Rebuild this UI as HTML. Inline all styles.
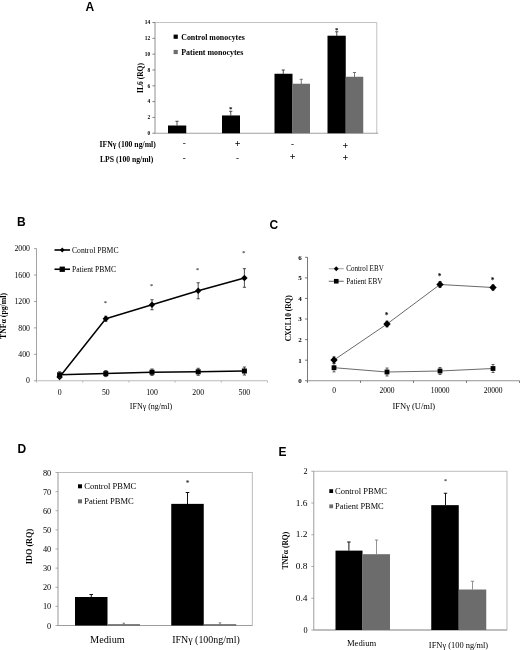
<!DOCTYPE html>
<html lang="en">
<head>
<meta charset="utf-8">
<title>Figure</title>
<style>
html,body{margin:0;padding:0;background:#fff;}
body{width:520px;height:650px;overflow:hidden;}
svg{display:block;filter:blur(0.4px);}
</style>
</head>
<body>
<svg width="520" height="650" viewBox="0 0 520 650">
<rect width="520" height="650" fill="#fff"/>
<text x="85.5" y="11" font-family='"Liberation Sans", sans-serif' font-size="12" font-weight="bold" fill="#000">A</text>
<line x1="155" y1="22.5" x2="376.75" y2="22.5" stroke="#b4b4b4" stroke-width="0.8"/>
<line x1="376.75" y1="22.5" x2="376.75" y2="133.25" stroke="#b4b4b4" stroke-width="0.8"/>
<line x1="155" y1="22.5" x2="155" y2="133.25" stroke="#777" stroke-width="0.8"/>
<line x1="155" y1="133.25" x2="378.25" y2="133.25" stroke="#888" stroke-width="0.8"/>
<line x1="152.4" y1="133.25" x2="155" y2="133.25" stroke="#555" stroke-width="0.7"/>
<text x="150.2" y="135.05" font-family='"Liberation Serif", serif' font-size="5.4" text-anchor="end" font-weight="bold" fill="#000">0</text>
<line x1="152.4" y1="117.42857142857143" x2="155" y2="117.42857142857143" stroke="#555" stroke-width="0.7"/>
<text x="150.2" y="119.22857142857143" font-family='"Liberation Serif", serif' font-size="5.4" text-anchor="end" font-weight="bold" fill="#000">2</text>
<line x1="152.4" y1="101.60714285714286" x2="155" y2="101.60714285714286" stroke="#555" stroke-width="0.7"/>
<text x="150.2" y="103.40714285714286" font-family='"Liberation Serif", serif' font-size="5.4" text-anchor="end" font-weight="bold" fill="#000">4</text>
<line x1="152.4" y1="85.78571428571428" x2="155" y2="85.78571428571428" stroke="#555" stroke-width="0.7"/>
<text x="150.2" y="87.58571428571427" font-family='"Liberation Serif", serif' font-size="5.4" text-anchor="end" font-weight="bold" fill="#000">6</text>
<line x1="152.4" y1="69.96428571428572" x2="155" y2="69.96428571428572" stroke="#555" stroke-width="0.7"/>
<text x="150.2" y="71.76428571428572" font-family='"Liberation Serif", serif' font-size="5.4" text-anchor="end" font-weight="bold" fill="#000">8</text>
<line x1="152.4" y1="54.14285714285714" x2="155" y2="54.14285714285714" stroke="#555" stroke-width="0.7"/>
<text x="150.2" y="55.942857142857136" font-family='"Liberation Serif", serif' font-size="5.4" text-anchor="end" font-weight="bold" fill="#000">10</text>
<line x1="152.4" y1="38.32142857142857" x2="155" y2="38.32142857142857" stroke="#555" stroke-width="0.7"/>
<text x="150.2" y="40.12142857142857" font-family='"Liberation Serif", serif' font-size="5.4" text-anchor="end" font-weight="bold" fill="#000">12</text>
<line x1="152.4" y1="22.5" x2="155" y2="22.5" stroke="#555" stroke-width="0.7"/>
<text x="150.2" y="24.3" font-family='"Liberation Serif", serif' font-size="5.4" text-anchor="end" font-weight="bold" fill="#000">14</text>
<text x="143.3" y="78" font-family='"Liberation Serif", serif' font-size="7.5" text-anchor="middle" font-weight="bold" transform="rotate(-90 143.3 78)" fill="#000">IL6 (RQ)</text>
<rect x="168.00" y="125.50" width="18.25" height="7.75" fill="#000"/>
<line x1="177" y1="121.25" x2="177" y2="125.5" stroke="#222" stroke-width="0.8"/>
<line x1="175.4" y1="121.25" x2="178.6" y2="121.25" stroke="#222" stroke-width="0.8"/>
<rect x="222.00" y="115.45" width="18.00" height="17.80" fill="#000"/>
<line x1="230.75" y1="111.25" x2="230.75" y2="115.5" stroke="#222" stroke-width="0.8"/>
<line x1="229.15" y1="111.25" x2="232.35" y2="111.25" stroke="#222" stroke-width="0.8"/>
<rect x="274.50" y="73.76" width="18.00" height="59.49" fill="#000"/>
<line x1="283.25" y1="70" x2="283.25" y2="74" stroke="#222" stroke-width="0.8"/>
<line x1="281.65" y1="70" x2="284.85" y2="70" stroke="#222" stroke-width="0.8"/>
<rect x="292.50" y="83.73" width="17.50" height="49.52" fill="#6c6c6c"/>
<line x1="301.25" y1="79.25" x2="301.25" y2="84" stroke="#555" stroke-width="0.8"/>
<line x1="299.65" y1="79.25" x2="302.85" y2="79.25" stroke="#555" stroke-width="0.8"/>
<rect x="327.50" y="35.71" width="18.25" height="97.54" fill="#000"/>
<line x1="336.75" y1="31.75" x2="336.75" y2="36" stroke="#222" stroke-width="0.8"/>
<line x1="335.15" y1="31.75" x2="338.35" y2="31.75" stroke="#222" stroke-width="0.8"/>
<rect x="345.75" y="76.77" width="17.50" height="56.48" fill="#6c6c6c"/>
<line x1="354.5" y1="72.5" x2="354.5" y2="77" stroke="#555" stroke-width="0.8"/>
<line x1="352.9" y1="72.5" x2="356.1" y2="72.5" stroke="#555" stroke-width="0.8"/>
<text x="230.75" y="111.2" font-family='"Liberation Serif", serif' font-size="7" text-anchor="middle" font-weight="bold" fill="#000">*</text>
<text x="336.75" y="31.7" font-family='"Liberation Serif", serif' font-size="7" text-anchor="middle" font-weight="bold" fill="#000">*</text>
<rect x="173.60" y="34.60" width="4.20" height="4.20" fill="#000"/>
<text x="181.25" y="39.8" font-family='"Liberation Serif", serif' font-size="8" font-weight="bold" textLength="63.5" lengthAdjust="spacingAndGlyphs" fill="#000">Control monocytes</text>
<rect x="173.60" y="49.90" width="4.20" height="4.20" fill="#6c6c6c"/>
<text x="181.25" y="54.7" font-family='"Liberation Serif", serif' font-size="8" font-weight="bold" textLength="62" lengthAdjust="spacingAndGlyphs" fill="#000">Patient monocytes</text>
<text x="99.5" y="146.8" font-family='"Liberation Serif", serif' font-size="7.5" font-weight="bold" textLength="56.3" lengthAdjust="spacingAndGlyphs" fill="#000">IFN&#947; (100 ng/ml)</text>
<text x="100" y="161.5" font-family='"Liberation Serif", serif' font-size="7.5" font-weight="bold" textLength="53.3" lengthAdjust="spacingAndGlyphs" fill="#000">LPS (100 ng/ml)</text>
<text x="184.3" y="146.4" font-family='"Liberation Serif", serif' font-size="9" text-anchor="middle" font-weight="bold" fill="#000">-</text>
<text x="237.6" y="147.0" font-family='"Liberation Serif", serif' font-size="10" text-anchor="middle" font-weight="bold" fill="#000">+</text>
<text x="292.6" y="146.8" font-family='"Liberation Serif", serif' font-size="9" text-anchor="middle" font-weight="bold" fill="#000">-</text>
<text x="345.4" y="148.6" font-family='"Liberation Serif", serif' font-size="10" text-anchor="middle" font-weight="bold" fill="#000">+</text>
<text x="184.3" y="160.8" font-family='"Liberation Serif", serif' font-size="9" text-anchor="middle" font-weight="bold" fill="#000">-</text>
<text x="237.6" y="160.8" font-family='"Liberation Serif", serif' font-size="9" text-anchor="middle" font-weight="bold" fill="#000">-</text>
<text x="292.6" y="160.4" font-family='"Liberation Serif", serif' font-size="10" text-anchor="middle" font-weight="bold" fill="#000">+</text>
<text x="345.4" y="161.4" font-family='"Liberation Serif", serif' font-size="10" text-anchor="middle" font-weight="bold" fill="#000">+</text>
<text x="17" y="226.3" font-family='"Liberation Sans", sans-serif' font-size="12" font-weight="bold" fill="#000">B</text>
<line x1="36.5" y1="248.6" x2="36.5" y2="380.75" stroke="#8c8c8c" stroke-width="0.8"/>
<line x1="36.5" y1="380.75" x2="267.5" y2="380.75" stroke="#a8a8a8" stroke-width="0.8"/>
<line x1="34.0" y1="380.75" x2="36.5" y2="380.75" stroke="#7a7a7a" stroke-width="0.7"/>
<text x="30.0" y="383.45" font-family='"Liberation Serif", serif' font-size="7.8" text-anchor="end" fill="#000">0</text>
<line x1="34.0" y1="354.32" x2="36.5" y2="354.32" stroke="#7a7a7a" stroke-width="0.7"/>
<text x="30.0" y="357.02" font-family='"Liberation Serif", serif' font-size="7.8" text-anchor="end" fill="#000">400</text>
<line x1="34.0" y1="327.89" x2="36.5" y2="327.89" stroke="#7a7a7a" stroke-width="0.7"/>
<text x="30.0" y="330.59" font-family='"Liberation Serif", serif' font-size="7.8" text-anchor="end" fill="#000">800</text>
<line x1="34.0" y1="301.46" x2="36.5" y2="301.46" stroke="#7a7a7a" stroke-width="0.7"/>
<text x="30.0" y="304.15999999999997" font-family='"Liberation Serif", serif' font-size="7.8" text-anchor="end" fill="#000">1200</text>
<line x1="34.0" y1="275.03" x2="36.5" y2="275.03" stroke="#7a7a7a" stroke-width="0.7"/>
<text x="30.0" y="277.72999999999996" font-family='"Liberation Serif", serif' font-size="7.8" text-anchor="end" fill="#000">1600</text>
<line x1="34.0" y1="248.6" x2="36.5" y2="248.6" stroke="#7a7a7a" stroke-width="0.7"/>
<text x="30.0" y="251.29999999999998" font-family='"Liberation Serif", serif' font-size="7.8" text-anchor="end" fill="#000">2000</text>
<line x1="36.5" y1="380.75" x2="36.5" y2="382.75" stroke="#a8a8a8" stroke-width="0.7"/>
<line x1="82.7" y1="380.75" x2="82.7" y2="382.75" stroke="#a8a8a8" stroke-width="0.7"/>
<line x1="128.9" y1="380.75" x2="128.9" y2="382.75" stroke="#a8a8a8" stroke-width="0.7"/>
<line x1="175.10000000000002" y1="380.75" x2="175.10000000000002" y2="382.75" stroke="#a8a8a8" stroke-width="0.7"/>
<line x1="221.3" y1="380.75" x2="221.3" y2="382.75" stroke="#a8a8a8" stroke-width="0.7"/>
<line x1="267.5" y1="380.75" x2="267.5" y2="382.75" stroke="#a8a8a8" stroke-width="0.7"/>
<text x="59.6" y="395.2" font-family='"Liberation Serif", serif' font-size="7.8" text-anchor="middle" fill="#000">0</text>
<text x="105.80000000000001" y="395.2" font-family='"Liberation Serif", serif' font-size="7.8" text-anchor="middle" fill="#000">50</text>
<text x="152.0" y="395.2" font-family='"Liberation Serif", serif' font-size="7.8" text-anchor="middle" fill="#000">100</text>
<text x="198.20000000000002" y="395.2" font-family='"Liberation Serif", serif' font-size="7.8" text-anchor="middle" fill="#000">200</text>
<text x="244.4" y="395.2" font-family='"Liberation Serif", serif' font-size="7.8" text-anchor="middle" fill="#000">500</text>
<text x="6" y="316" font-family='"Liberation Serif", serif' font-size="8" text-anchor="middle" font-weight="bold" transform="rotate(-90 6 316)" textLength="46" lengthAdjust="spacingAndGlyphs" fill="#000">TNF&#945; (pg/ml)</text>
<text x="151" y="409.3" font-family='"Liberation Serif", serif' font-size="8" text-anchor="middle" fill="#000">IFN&#947; (ng/ml)</text>
<polyline points="59.6,374.8 105.80000000000001,373.6 152.0,372.2 198.20000000000002,371.8 244.4,371" fill="none" stroke="#000" stroke-width="1.5" stroke-linejoin="round"/>
<polyline points="59.6,377.0 105.80000000000001,318.75 152.0,304.75 198.20000000000002,290.75 244.4,278" fill="none" stroke="#000" stroke-width="1.5" stroke-linejoin="round"/>
<polygon points="59.6,373.8 62.800000000000004,377.0 59.6,380.2 56.4,377.0" fill="#000"/>
<line x1="105.80000000000001" y1="316.25" x2="105.80000000000001" y2="321.25" stroke="#222" stroke-width="0.8"/>
<line x1="104.20000000000002" y1="316.25" x2="107.4" y2="316.25" stroke="#222" stroke-width="0.8"/>
<line x1="104.20000000000002" y1="321.25" x2="107.4" y2="321.25" stroke="#222" stroke-width="0.8"/>
<polygon points="105.80000000000001,315.55 109.00000000000001,318.75 105.80000000000001,321.95 102.60000000000001,318.75" fill="#000"/>
<line x1="152.0" y1="299.75" x2="152.0" y2="309.75" stroke="#222" stroke-width="0.8"/>
<line x1="150.4" y1="299.75" x2="153.6" y2="299.75" stroke="#222" stroke-width="0.8"/>
<line x1="150.4" y1="309.75" x2="153.6" y2="309.75" stroke="#222" stroke-width="0.8"/>
<polygon points="152.0,301.55 155.2,304.75 152.0,307.95 148.8,304.75" fill="#000"/>
<line x1="198.20000000000002" y1="282.75" x2="198.20000000000002" y2="298.75" stroke="#222" stroke-width="0.8"/>
<line x1="196.60000000000002" y1="282.75" x2="199.8" y2="282.75" stroke="#222" stroke-width="0.8"/>
<line x1="196.60000000000002" y1="298.75" x2="199.8" y2="298.75" stroke="#222" stroke-width="0.8"/>
<polygon points="198.20000000000002,287.55 201.4,290.75 198.20000000000002,293.95 195.00000000000003,290.75" fill="#000"/>
<line x1="244.4" y1="268.7" x2="244.4" y2="287.3" stroke="#222" stroke-width="0.8"/>
<line x1="242.8" y1="268.7" x2="246.0" y2="268.7" stroke="#222" stroke-width="0.8"/>
<line x1="242.8" y1="287.3" x2="246.0" y2="287.3" stroke="#222" stroke-width="0.8"/>
<polygon points="244.4,274.8 247.6,278 244.4,281.2 241.20000000000002,278" fill="#000"/>
<line x1="59.6" y1="371.8" x2="59.6" y2="377.8" stroke="#222" stroke-width="0.8"/>
<line x1="58.0" y1="371.8" x2="61.2" y2="371.8" stroke="#222" stroke-width="0.8"/>
<line x1="58.0" y1="377.8" x2="61.2" y2="377.8" stroke="#222" stroke-width="0.8"/>
<rect x="57.10" y="372.30" width="5.00" height="5.00" fill="#000"/>
<line x1="105.80000000000001" y1="370.6" x2="105.80000000000001" y2="376.6" stroke="#222" stroke-width="0.8"/>
<line x1="104.20000000000002" y1="370.6" x2="107.4" y2="370.6" stroke="#222" stroke-width="0.8"/>
<line x1="104.20000000000002" y1="376.6" x2="107.4" y2="376.6" stroke="#222" stroke-width="0.8"/>
<rect x="103.30" y="371.10" width="5.00" height="5.00" fill="#000"/>
<line x1="152.0" y1="369.0" x2="152.0" y2="375.4" stroke="#222" stroke-width="0.8"/>
<line x1="150.4" y1="369.0" x2="153.6" y2="369.0" stroke="#222" stroke-width="0.8"/>
<line x1="150.4" y1="375.4" x2="153.6" y2="375.4" stroke="#222" stroke-width="0.8"/>
<rect x="149.50" y="369.70" width="5.00" height="5.00" fill="#000"/>
<line x1="198.20000000000002" y1="368.3" x2="198.20000000000002" y2="375.3" stroke="#222" stroke-width="0.8"/>
<line x1="196.60000000000002" y1="368.3" x2="199.8" y2="368.3" stroke="#222" stroke-width="0.8"/>
<line x1="196.60000000000002" y1="375.3" x2="199.8" y2="375.3" stroke="#222" stroke-width="0.8"/>
<rect x="195.70" y="369.30" width="5.00" height="5.00" fill="#000"/>
<line x1="244.4" y1="367" x2="244.4" y2="375" stroke="#222" stroke-width="0.8"/>
<line x1="242.8" y1="367" x2="246.0" y2="367" stroke="#222" stroke-width="0.8"/>
<line x1="242.8" y1="375" x2="246.0" y2="375" stroke="#222" stroke-width="0.8"/>
<rect x="241.90" y="368.50" width="5.00" height="5.00" fill="#000"/>
<text x="105.20000000000002" y="304.9" font-family='"Liberation Serif", serif' font-size="7" text-anchor="middle" fill="#000">*</text>
<text x="151.4" y="287.6" font-family='"Liberation Serif", serif' font-size="7" text-anchor="middle" fill="#000">*</text>
<text x="197.60000000000002" y="272.0" font-family='"Liberation Serif", serif' font-size="7" text-anchor="middle" fill="#000">*</text>
<text x="243.8" y="255.3" font-family='"Liberation Serif", serif' font-size="7" text-anchor="middle" fill="#000">*</text>
<line x1="54.5" y1="250" x2="70" y2="250" stroke="#000" stroke-width="1.6"/>
<polygon points="62.25,247.6 64.65,250 62.25,252.4 59.85,250" fill="#000"/>
<text x="72" y="252.7" font-family='"Liberation Serif", serif' font-size="8" textLength="46.5" lengthAdjust="spacingAndGlyphs" fill="#000">Control PBMC</text>
<line x1="54.5" y1="269.25" x2="70" y2="269.25" stroke="#000" stroke-width="1.6"/>
<rect x="59.60" y="266.60" width="5.30" height="5.30" fill="#000"/>
<text x="72" y="272" font-family='"Liberation Serif", serif' font-size="8" textLength="44.2" lengthAdjust="spacingAndGlyphs" fill="#000">Patient PBMC</text>
<text x="269.5" y="229" font-family='"Liberation Sans", sans-serif' font-size="12" font-weight="bold" fill="#000">C</text>
<line x1="307.5" y1="257.3" x2="307.5" y2="380.75" stroke="#555" stroke-width="0.8"/>
<line x1="307.5" y1="380.75" x2="519.5" y2="380.75" stroke="#777" stroke-width="0.8"/>
<line x1="305.0" y1="380.75" x2="307.5" y2="380.75" stroke="#444" stroke-width="0.7"/>
<text x="301.7" y="383.15" font-family='"Liberation Serif", serif' font-size="7" text-anchor="end" font-weight="bold" fill="#000">0</text>
<line x1="305.0" y1="360.175" x2="307.5" y2="360.175" stroke="#444" stroke-width="0.7"/>
<text x="301.7" y="362.575" font-family='"Liberation Serif", serif' font-size="7" text-anchor="end" font-weight="bold" fill="#000">1</text>
<line x1="305.0" y1="339.6" x2="307.5" y2="339.6" stroke="#444" stroke-width="0.7"/>
<text x="301.7" y="342.0" font-family='"Liberation Serif", serif' font-size="7" text-anchor="end" font-weight="bold" fill="#000">2</text>
<line x1="305.0" y1="319.025" x2="307.5" y2="319.025" stroke="#444" stroke-width="0.7"/>
<text x="301.7" y="321.42499999999995" font-family='"Liberation Serif", serif' font-size="7" text-anchor="end" font-weight="bold" fill="#000">3</text>
<line x1="305.0" y1="298.45" x2="307.5" y2="298.45" stroke="#444" stroke-width="0.7"/>
<text x="301.7" y="300.84999999999997" font-family='"Liberation Serif", serif' font-size="7" text-anchor="end" font-weight="bold" fill="#000">4</text>
<line x1="305.0" y1="277.875" x2="307.5" y2="277.875" stroke="#444" stroke-width="0.7"/>
<text x="301.7" y="280.275" font-family='"Liberation Serif", serif' font-size="7" text-anchor="end" font-weight="bold" fill="#000">5</text>
<line x1="305.0" y1="257.3" x2="307.5" y2="257.3" stroke="#444" stroke-width="0.7"/>
<text x="301.7" y="259.7" font-family='"Liberation Serif", serif' font-size="7" text-anchor="end" font-weight="bold" fill="#000">6</text>
<line x1="307.5" y1="380.75" x2="307.5" y2="382.95" stroke="#444" stroke-width="0.7"/>
<line x1="360.5" y1="380.75" x2="360.5" y2="382.95" stroke="#444" stroke-width="0.7"/>
<line x1="413.5" y1="380.75" x2="413.5" y2="382.95" stroke="#444" stroke-width="0.7"/>
<line x1="466.5" y1="380.75" x2="466.5" y2="382.95" stroke="#444" stroke-width="0.7"/>
<line x1="519.5" y1="380.75" x2="519.5" y2="382.95" stroke="#444" stroke-width="0.7"/>
<text x="334.0" y="393" font-family='"Liberation Serif", serif' font-size="7.5" text-anchor="middle" fill="#000">0</text>
<text x="387.0" y="393" font-family='"Liberation Serif", serif' font-size="7.5" text-anchor="middle" fill="#000">2000</text>
<text x="440.0" y="393" font-family='"Liberation Serif", serif' font-size="7.5" text-anchor="middle" fill="#000">10000</text>
<text x="493.0" y="393" font-family='"Liberation Serif", serif' font-size="7.5" text-anchor="middle" fill="#000">20000</text>
<text x="291" y="318.3" font-family='"Liberation Serif", serif' font-size="7.2" text-anchor="middle" font-weight="bold" transform="rotate(-90 291 318.3)" textLength="46" lengthAdjust="spacingAndGlyphs" fill="#000">CXCL10 (RQ)</text>
<text x="413.8" y="409.3" font-family='"Liberation Serif", serif' font-size="8.5" text-anchor="middle" fill="#000">IFN&#947; (U/ml)</text>
<polyline points="334.0,367.7 387.0,372 440.0,371 493.0,368.5" fill="none" stroke="#444" stroke-width="0.8" stroke-linejoin="round"/>
<polyline points="334.0,360 387.0,324 440.0,284.5 493.0,287.5" fill="none" stroke="#444" stroke-width="0.8" stroke-linejoin="round"/>
<line x1="334.0" y1="356.8" x2="334.0" y2="363.2" stroke="#222" stroke-width="0.7"/>
<line x1="332.5" y1="356.8" x2="335.5" y2="356.8" stroke="#222" stroke-width="0.7"/>
<line x1="332.5" y1="363.2" x2="335.5" y2="363.2" stroke="#222" stroke-width="0.7"/>
<polygon points="334.0,356.3 337.7,360 334.0,363.7 330.3,360" fill="#000"/>
<line x1="387.0" y1="321.2" x2="387.0" y2="326.8" stroke="#222" stroke-width="0.7"/>
<line x1="385.5" y1="321.2" x2="388.5" y2="321.2" stroke="#222" stroke-width="0.7"/>
<line x1="385.5" y1="326.8" x2="388.5" y2="326.8" stroke="#222" stroke-width="0.7"/>
<polygon points="387.0,320.3 390.7,324 387.0,327.7 383.3,324" fill="#000"/>
<line x1="440.0" y1="281.5" x2="440.0" y2="287.5" stroke="#222" stroke-width="0.7"/>
<line x1="438.5" y1="281.5" x2="441.5" y2="281.5" stroke="#222" stroke-width="0.7"/>
<line x1="438.5" y1="287.5" x2="441.5" y2="287.5" stroke="#222" stroke-width="0.7"/>
<polygon points="440.0,280.8 443.7,284.5 440.0,288.2 436.3,284.5" fill="#000"/>
<line x1="493.0" y1="285.0" x2="493.0" y2="290.0" stroke="#222" stroke-width="0.7"/>
<line x1="491.5" y1="285.0" x2="494.5" y2="285.0" stroke="#222" stroke-width="0.7"/>
<line x1="491.5" y1="290.0" x2="494.5" y2="290.0" stroke="#222" stroke-width="0.7"/>
<polygon points="493.0,283.8 496.7,287.5 493.0,291.2 489.3,287.5" fill="#000"/>
<line x1="334.0" y1="363.5" x2="334.0" y2="371.9" stroke="#222" stroke-width="0.7"/>
<line x1="332.5" y1="363.5" x2="335.5" y2="363.5" stroke="#222" stroke-width="0.7"/>
<line x1="332.5" y1="371.9" x2="335.5" y2="371.9" stroke="#222" stroke-width="0.7"/>
<rect x="331.60" y="365.30" width="4.80" height="4.80" fill="#000"/>
<line x1="387.0" y1="368" x2="387.0" y2="376" stroke="#222" stroke-width="0.7"/>
<line x1="385.5" y1="368" x2="388.5" y2="368" stroke="#222" stroke-width="0.7"/>
<line x1="385.5" y1="376" x2="388.5" y2="376" stroke="#222" stroke-width="0.7"/>
<rect x="384.60" y="369.60" width="4.80" height="4.80" fill="#000"/>
<line x1="440.0" y1="367.5" x2="440.0" y2="374.5" stroke="#222" stroke-width="0.7"/>
<line x1="438.5" y1="367.5" x2="441.5" y2="367.5" stroke="#222" stroke-width="0.7"/>
<line x1="438.5" y1="374.5" x2="441.5" y2="374.5" stroke="#222" stroke-width="0.7"/>
<rect x="437.60" y="368.60" width="4.80" height="4.80" fill="#000"/>
<line x1="493.0" y1="364.5" x2="493.0" y2="372.5" stroke="#222" stroke-width="0.7"/>
<line x1="491.5" y1="364.5" x2="494.5" y2="364.5" stroke="#222" stroke-width="0.7"/>
<line x1="491.5" y1="372.5" x2="494.5" y2="372.5" stroke="#222" stroke-width="0.7"/>
<rect x="490.60" y="366.10" width="4.80" height="4.80" fill="#000"/>
<text x="386.5" y="318.2" font-family='"Liberation Serif", serif' font-size="7.5" text-anchor="middle" font-weight="bold" fill="#000">*</text>
<text x="439.5" y="278.5" font-family='"Liberation Serif", serif' font-size="7.5" text-anchor="middle" font-weight="bold" fill="#000">*</text>
<text x="492.5" y="282.8" font-family='"Liberation Serif", serif' font-size="7.5" text-anchor="middle" font-weight="bold" fill="#000">*</text>
<line x1="328.75" y1="268.75" x2="343.75" y2="268.75" stroke="#777" stroke-width="0.7"/>
<polygon points="336.25,266.35 338.65,268.75 336.25,271.15 333.85,268.75" fill="#000"/>
<text x="346.25" y="271.3" font-family='"Liberation Serif", serif' font-size="7.5" textLength="37.5" lengthAdjust="spacingAndGlyphs" fill="#000">Control EBV</text>
<line x1="328.75" y1="281.25" x2="343.75" y2="281.25" stroke="#222" stroke-width="0.7"/>
<rect x="333.95" y="278.95" width="4.60" height="4.60" fill="#000"/>
<text x="346.25" y="283.8" font-family='"Liberation Serif", serif' font-size="7.5" textLength="36.2" lengthAdjust="spacingAndGlyphs" fill="#000">Patient EBV</text>
<text x="17.5" y="453.2" font-family='"Liberation Sans", sans-serif' font-size="12" font-weight="bold" fill="#000">D</text>
<rect x="58" y="472.5" width="194.3" height="153.0" fill="none" stroke="#b4b4b4" stroke-width="0.9"/>
<line x1="58" y1="472.5" x2="58" y2="625.5" stroke="#999" stroke-width="0.5"/>
<line x1="58" y1="625.5" x2="252.3" y2="625.5" stroke="#9a9a9a" stroke-width="0.9"/>
<line x1="55.5" y1="625.5" x2="58" y2="625.5" stroke="#8a8a8a" stroke-width="0.7"/>
<text x="51.2" y="628.5" font-family='"Liberation Serif", serif' font-size="8.3" text-anchor="end" fill="#000">0</text>
<line x1="55.5" y1="606.375" x2="58" y2="606.375" stroke="#8a8a8a" stroke-width="0.7"/>
<text x="51.2" y="609.375" font-family='"Liberation Serif", serif' font-size="8.3" text-anchor="end" fill="#000">10</text>
<line x1="55.5" y1="587.25" x2="58" y2="587.25" stroke="#8a8a8a" stroke-width="0.7"/>
<text x="51.2" y="590.25" font-family='"Liberation Serif", serif' font-size="8.3" text-anchor="end" fill="#000">20</text>
<line x1="55.5" y1="568.125" x2="58" y2="568.125" stroke="#8a8a8a" stroke-width="0.7"/>
<text x="51.2" y="571.125" font-family='"Liberation Serif", serif' font-size="8.3" text-anchor="end" fill="#000">30</text>
<line x1="55.5" y1="549.0" x2="58" y2="549.0" stroke="#8a8a8a" stroke-width="0.7"/>
<text x="51.2" y="552.0" font-family='"Liberation Serif", serif' font-size="8.3" text-anchor="end" fill="#000">40</text>
<line x1="55.5" y1="529.875" x2="58" y2="529.875" stroke="#8a8a8a" stroke-width="0.7"/>
<text x="51.2" y="532.875" font-family='"Liberation Serif", serif' font-size="8.3" text-anchor="end" fill="#000">50</text>
<line x1="55.5" y1="510.75" x2="58" y2="510.75" stroke="#8a8a8a" stroke-width="0.7"/>
<text x="51.2" y="513.75" font-family='"Liberation Serif", serif' font-size="8.3" text-anchor="end" fill="#000">60</text>
<line x1="55.5" y1="491.625" x2="58" y2="491.625" stroke="#8a8a8a" stroke-width="0.7"/>
<text x="51.2" y="494.625" font-family='"Liberation Serif", serif' font-size="8.3" text-anchor="end" fill="#000">70</text>
<line x1="55.5" y1="472.5" x2="58" y2="472.5" stroke="#8a8a8a" stroke-width="0.7"/>
<text x="51.2" y="475.5" font-family='"Liberation Serif", serif' font-size="8.3" text-anchor="end" fill="#000">80</text>
<text x="31.8" y="546.5" font-family='"Liberation Serif", serif' font-size="8.2" text-anchor="middle" font-weight="bold" transform="rotate(-90 31.8 546.5)" fill="#000">IDO (RQ)</text>
<rect x="75.00" y="597.00" width="32.50" height="28.50" fill="#000"/>
<line x1="91.25" y1="594.5" x2="91.25" y2="597.2" stroke="#111" stroke-width="1.0"/>
<line x1="89.45" y1="594.5" x2="93.05" y2="594.5" stroke="#111" stroke-width="1.0"/>
<rect x="107.50" y="624.26" width="32.50" height="1.24" fill="#555"/>
<line x1="123.75" y1="623.2" x2="123.75" y2="624.5" stroke="#666" stroke-width="0.8"/>
<line x1="122.55" y1="623.2" x2="124.95" y2="623.2" stroke="#666" stroke-width="0.8"/>
<rect x="171.25" y="503.87" width="32.50" height="121.63" fill="#000"/>
<line x1="187.5" y1="492.5" x2="187.5" y2="504.2" stroke="#111" stroke-width="1.0"/>
<line x1="185.7" y1="492.5" x2="189.3" y2="492.5" stroke="#111" stroke-width="1.0"/>
<rect x="203.75" y="624.26" width="32.50" height="1.24" fill="#555"/>
<line x1="220" y1="622.8" x2="220" y2="624.5" stroke="#666" stroke-width="0.8"/>
<line x1="218.8" y1="622.8" x2="221.2" y2="622.8" stroke="#666" stroke-width="0.8"/>
<text x="187.5" y="486.3" font-family='"Liberation Serif", serif' font-size="7.5" text-anchor="middle" fill="#000">*</text>
<rect x="78.00" y="484.30" width="4.00" height="4.00" fill="#000"/>
<text x="84.25" y="489.1" font-family='"Liberation Serif", serif' font-size="8.2" textLength="52" lengthAdjust="spacingAndGlyphs" fill="#000">Control PBMC</text>
<rect x="78.00" y="499.30" width="4.00" height="4.00" fill="#6c6c6c"/>
<text x="84.25" y="504.1" font-family='"Liberation Serif", serif' font-size="8.2" textLength="49.5" lengthAdjust="spacingAndGlyphs" fill="#000">Patient PBMC</text>
<text x="107.4" y="642.7" font-family='"Liberation Serif", serif' font-size="9.5" text-anchor="middle" textLength="34.7" lengthAdjust="spacingAndGlyphs" fill="#000">Medium</text>
<text x="206" y="642.7" font-family='"Liberation Serif", serif' font-size="9.5" text-anchor="middle" textLength="67.6" lengthAdjust="spacingAndGlyphs" fill="#000">IFN&#947; (100ng/ml)</text>
<text x="278.5" y="455.9" font-family='"Liberation Sans", sans-serif' font-size="12" font-weight="bold" fill="#000">E</text>
<rect x="313.75" y="471.25" width="193.25" height="158.75" fill="none" stroke="#b4b4b4" stroke-width="0.9"/>
<line x1="313.75" y1="471.25" x2="313.75" y2="630" stroke="#999" stroke-width="0.5"/>
<line x1="313.75" y1="630" x2="507" y2="630" stroke="#9a9a9a" stroke-width="0.9"/>
<line x1="311.25" y1="630.0" x2="313.75" y2="630.0" stroke="#8a8a8a" stroke-width="0.7"/>
<text x="307.55" y="632.6" font-family='"Liberation Serif", serif' font-size="8.2" text-anchor="end" fill="#000">0</text>
<line x1="311.25" y1="598.25" x2="313.75" y2="598.25" stroke="#8a8a8a" stroke-width="0.7"/>
<text x="307.55" y="600.85" font-family='"Liberation Serif", serif' font-size="8.2" text-anchor="end" textLength="11.75" lengthAdjust="spacingAndGlyphs" fill="#000">0.4</text>
<line x1="311.25" y1="566.5" x2="313.75" y2="566.5" stroke="#8a8a8a" stroke-width="0.7"/>
<text x="307.55" y="569.1" font-family='"Liberation Serif", serif' font-size="8.2" text-anchor="end" textLength="11.75" lengthAdjust="spacingAndGlyphs" fill="#000">0.8</text>
<line x1="311.25" y1="534.75" x2="313.75" y2="534.75" stroke="#8a8a8a" stroke-width="0.7"/>
<text x="307.55" y="537.35" font-family='"Liberation Serif", serif' font-size="8.2" text-anchor="end" textLength="11.75" lengthAdjust="spacingAndGlyphs" fill="#000">1.2</text>
<line x1="311.25" y1="503.0" x2="313.75" y2="503.0" stroke="#8a8a8a" stroke-width="0.7"/>
<text x="307.55" y="505.6" font-family='"Liberation Serif", serif' font-size="8.2" text-anchor="end" textLength="11.75" lengthAdjust="spacingAndGlyphs" fill="#000">1.6</text>
<line x1="311.25" y1="471.25" x2="313.75" y2="471.25" stroke="#8a8a8a" stroke-width="0.7"/>
<text x="307.55" y="473.85" font-family='"Liberation Serif", serif' font-size="8.2" text-anchor="end" fill="#000">2</text>
<text x="288" y="550.5" font-family='"Liberation Serif", serif' font-size="7.5" text-anchor="middle" font-weight="bold" transform="rotate(-90 288 550.5)" fill="#000">TNF&#945; (RQ)</text>
<rect x="335.50" y="550.62" width="27.00" height="79.38" fill="#000"/>
<line x1="348.9" y1="542" x2="348.9" y2="550.6" stroke="#111" stroke-width="1.0"/>
<line x1="347.2" y1="542" x2="350.59999999999997" y2="542" stroke="#111" stroke-width="1.0"/>
<rect x="362.50" y="554.20" width="27.50" height="75.80" fill="#6c6c6c"/>
<line x1="376.5" y1="540" x2="376.5" y2="554.3" stroke="#777" stroke-width="0.8"/>
<line x1="374.8" y1="540" x2="378.2" y2="540" stroke="#777" stroke-width="0.8"/>
<rect x="431.25" y="505.14" width="27.50" height="124.86" fill="#000"/>
<line x1="445.5" y1="493.25" x2="445.5" y2="505.2" stroke="#111" stroke-width="1.0"/>
<line x1="443.8" y1="493.25" x2="447.2" y2="493.25" stroke="#111" stroke-width="1.0"/>
<rect x="458.75" y="589.52" width="27.50" height="40.48" fill="#6c6c6c"/>
<line x1="472.5" y1="581.25" x2="472.5" y2="589.6" stroke="#777" stroke-width="0.8"/>
<line x1="470.8" y1="581.25" x2="474.2" y2="581.25" stroke="#777" stroke-width="0.8"/>
<text x="445.5" y="482.8" font-family='"Liberation Serif", serif' font-size="7" text-anchor="middle" fill="#000">*</text>
<rect x="329.30" y="489.20" width="3.80" height="3.80" fill="#000"/>
<text x="335" y="493.7" font-family='"Liberation Serif", serif' font-size="7.5" textLength="52" lengthAdjust="spacingAndGlyphs" fill="#000">Control PBMC</text>
<rect x="329.30" y="504.40" width="3.80" height="3.80" fill="#6c6c6c"/>
<text x="335" y="508.8" font-family='"Liberation Serif", serif' font-size="7.5" textLength="48.7" lengthAdjust="spacingAndGlyphs" fill="#000">Patient PBMC</text>
<text x="361.6" y="645.7" font-family='"Liberation Serif", serif' font-size="8.3" text-anchor="middle" textLength="29.3" lengthAdjust="spacingAndGlyphs" fill="#000">Medium</text>
<text x="458.5" y="647.6" font-family='"Liberation Serif", serif' font-size="7.6" text-anchor="middle" textLength="59.3" lengthAdjust="spacingAndGlyphs" fill="#000">IFN&#947; (100 ng/ml)</text>
</svg>
</body>
</html>
